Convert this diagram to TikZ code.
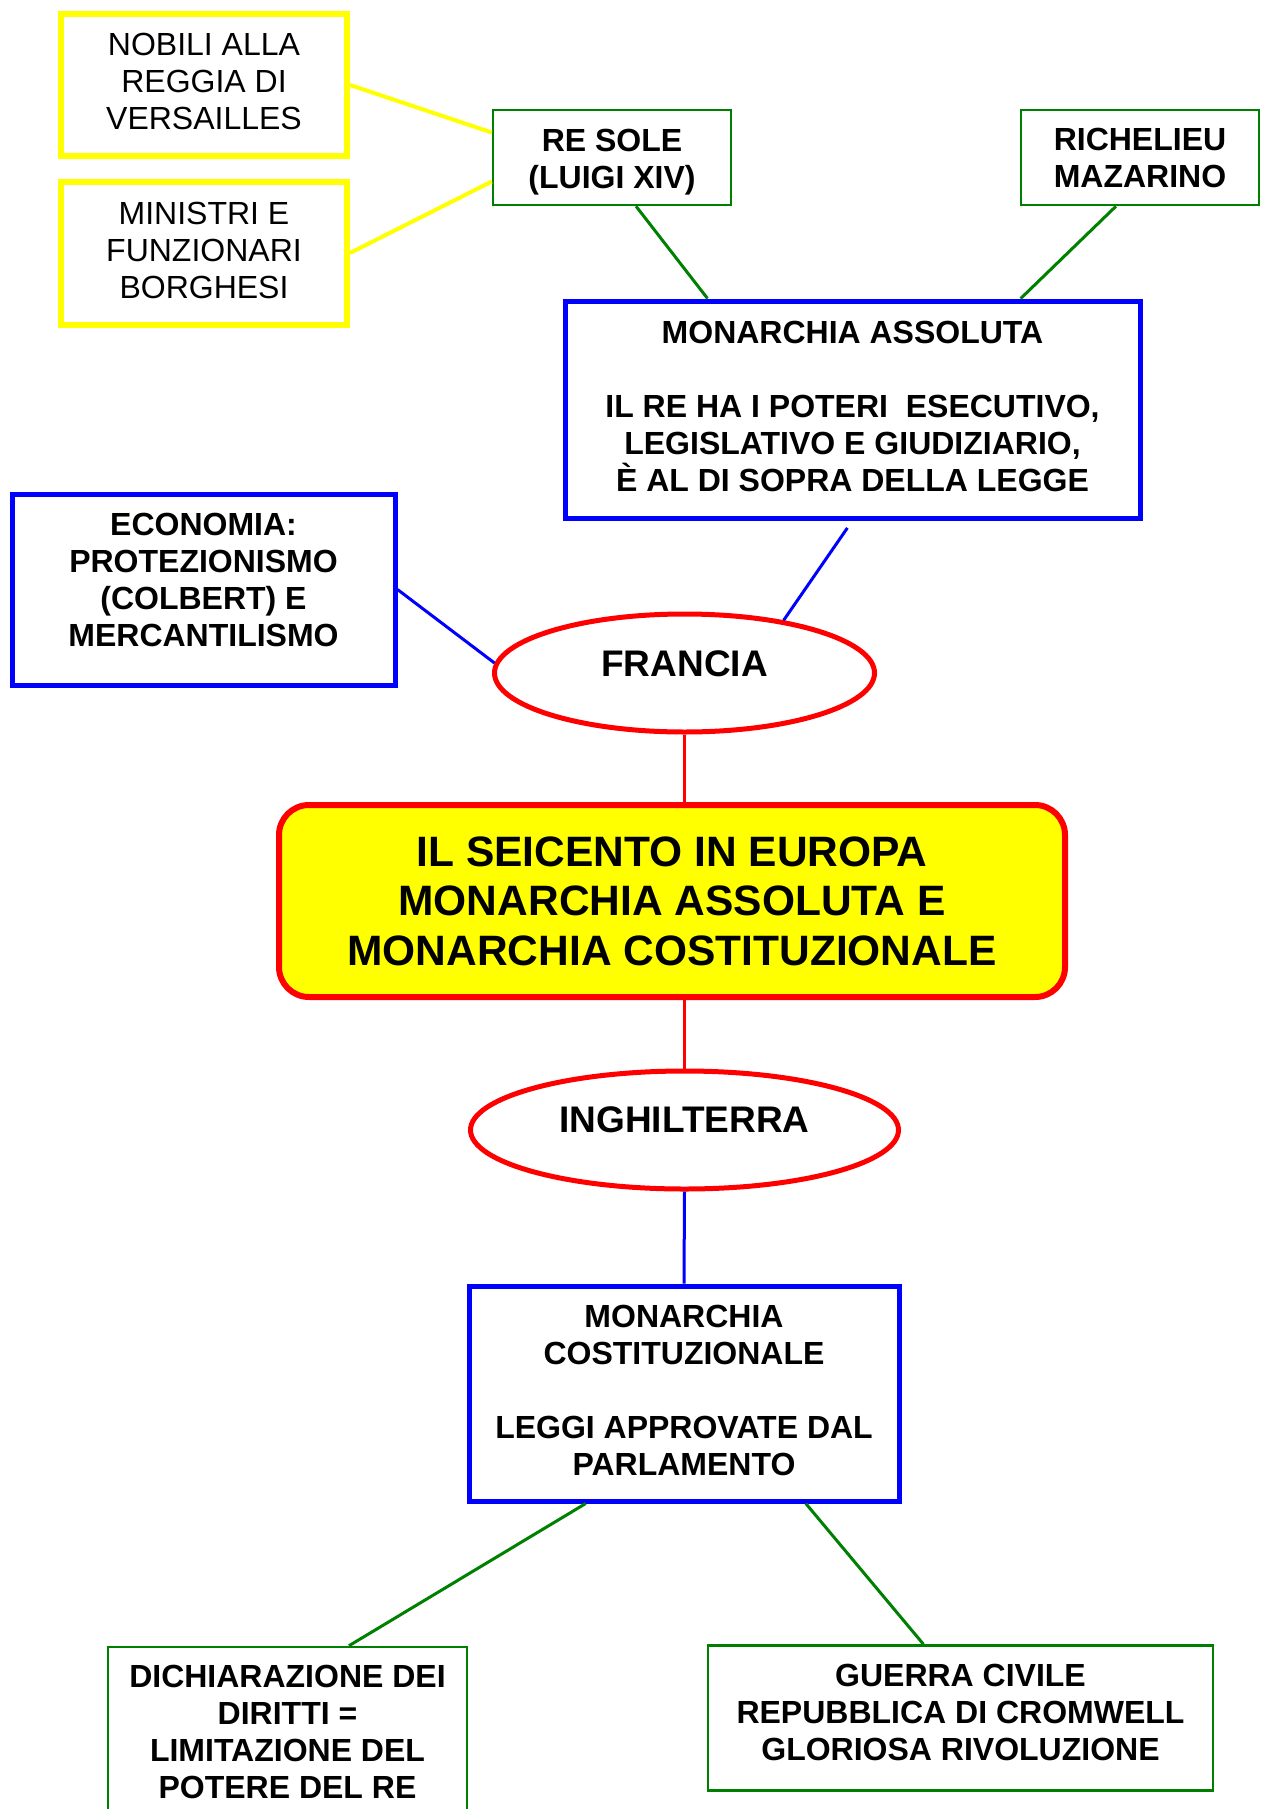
\documentclass[tikz,border=0pt]{standalone}
\usepackage{fontspec}
\setmainfont{Liberation Sans}
\usetikzlibrary{shapes.geometric,calc}
\definecolor{mapgreen}{RGB}{0,128,0}
\definecolor{mapyellow}{RGB}{255,255,0}
% zero-width rules that move the top or the bottom of a text block
\newcommand{\lowpad}[1]{\rule[-#1]{0pt}{#1}}
\newcommand{\toppad}[1]{\rule{0pt}{#1}}

\begin{document}
\begin{tikzpicture}[x=1pt, y=-1pt,
    boxtext/.style={align=center, inner sep=0pt,
      font=\fontsize{32}{37}\selectfont\bfseries},
    yellowbox/.style={boxtext, draw=mapyellow, line width=6pt,
      font=\fontsize{32}{37}\selectfont},
    greenbox/.style={boxtext, draw=mapgreen, line width=2.5pt},
    bluebox/.style={boxtext, draw=blue, line width=5pt},
    country/.style={ellipse, draw=red, line width=5pt, inner sep=0pt,
      minimum height=118pt, font=\fontsize{37}{42}\selectfont\bfseries},
    yline/.style={mapyellow, line width=4pt},
    gline/.style={mapgreen, line width=3pt},
    bline/.style={blue, line width=3pt},
    rline/.style={red, line width=3pt}]
  \useasboundingbox (0,0) rectangle (1261,1809);
  % Top: Francia side
  \node[yellowbox, minimum width=286pt, minimum height=142pt] (nob) at (204,85)
    {NOBILI ALLA\\REGGIA DI\\VERSAILLES\lowpad{7pt}};
  \node[yellowbox, minimum width=286pt, minimum height=143pt] (mini) at (204,253)
    {MINISTRI E\\FUNZIONARI\\BORGHESI\lowpad{6pt}};
  \node[greenbox, minimum width=238pt, minimum height=95pt] (re) at (612,157.5)
    {\toppad{31pt}RE SOLE\\(LUIGI XIV)};
  \node[greenbox, minimum width=238pt, minimum height=95pt] (ri) at (1140,157.5)
    {RICHELIEU\\MAZARINO};
  \node[bluebox, minimum width=575pt, minimum height=217pt] (ma) at (852.5,409.5)
    {MONARCHIA ASSOLUTA\\[37pt]IL RE HA I POTERI~ ESECUTIVO,\\LEGISLATIVO E GIUDIZIARIO,\\È AL DI SOPRA DELLA LEGGE\lowpad{6pt}};
  \node[bluebox, minimum width=383pt, minimum height=191pt] (eco) at (203.5,589.5)
    {ECONOMIA:\\PROTEZIONISMO\\(COLBERT) E\\MERCANTILISMO\lowpad{19pt}};
  \node[country, minimum width=380pt] (fr) at (684.5,673) {FRANCIA\lowpad{18pt}};
  % Centre
  \node[draw=red, fill=mapyellow, line width=6pt, rounded corners=30pt,
    align=center, inner sep=0pt, minimum width=786pt, minimum height=192pt,
    font=\fontsize{42.5}{49.5}\selectfont\bfseries] (cen) at (672,901)
    {IL SEICENTO IN EUROPA\\MONARCHIA ASSOLUTA E\\MONARCHIA COSTITUZIONALE};
  % Bottom: Inghilterra side
  \node[country, minimum width=428pt] (ing) at (684.5,1130) {INGHILTERRA\lowpad{20pt}};
  \node[bluebox, minimum width=430pt, minimum height=215pt] (mc) at (684,1393.5)
    {MONARCHIA\\COSTITUZIONALE\\[37pt]LEGGI APPROVATE DAL\\PARLAMENTO\lowpad{7pt}};
  \node[greenbox, minimum width=359pt, minimum height=170pt] (dich) at (287.5,1732)
    {DICHIARAZIONE DEI\\DIRITTI =\\LIMITAZIONE DEL\\POTERE DEL RE};
  \node[greenbox, minimum width=505pt, minimum height=145pt] (gue) at (960.5,1718)
    {GUERRA CIVILE\\REPUBBLICA DI CROMWELL\\GLORIOSA RIVOLUZIONE\lowpad{12pt}};
  % Links
  \draw[yline] (nob.east) -- ($(re.west)+(0,-25)$);
  \draw[yline] (mini.east) -- ($(re.west)+(0,24)$);
  \draw[gline] ($(re.south west)!0.6!(re.south east)$) -- ($(ma.north west)!0.25!(ma.north east)$);
  \draw[gline] ($(ri.south west)!0.4!(ri.south east)$) -- ($(ma.north west)!0.79!(ma.north east)$);
  \draw[bline, shorten <=9pt] (ma.south) -- (fr.28);
  \draw[bline] (eco.east) -- (fr.177);
  \draw[rline] (fr.south) -- (fr.south |- cen.north);
  \draw[rline] (cen.south -| ing.north) -- (ing.north);
  \draw[bline] (ing.south) -- (mc.north);
  \draw[gline] ($(mc.south west)!0.274!(mc.south east)$) -- ($(dich.north west)!0.67!(dich.north east)$);
  \draw[gline] ($(mc.south west)!0.78!(mc.south east)$) -- ($(gue.north west)!0.427!(gue.north east)$);
\end{tikzpicture}
\end{document}
